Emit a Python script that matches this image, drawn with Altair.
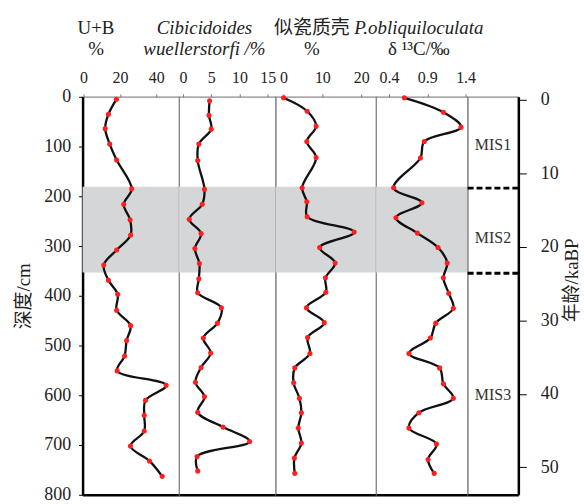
import altair as alt
import pandas as pd

# ---------------- data ----------------
ub_depth = [5, 35, 64, 95, 127, 185, 216, 247, 278, 308, 338, 369, 397, 429, 460, 490, 521, 551, 580, 610, 640, 672, 702, 732, 763]
ub_val = [18.1, 13.7, 11.9, 14.4, 18.2, 26.5, 22.1, 25.6, 25.9, 18.2, 11.1, 13.7, 18.8, 18.2, 25.9, 23.7, 22.6, 18.5, 45.5, 34.1, 33.4, 33.4, 25.8, 36.3, 43.3]

cw_depth = [8, 37, 65, 95, 128, 186, 216, 246, 275, 305, 335, 366, 394, 424, 455, 485, 515, 544, 574, 603, 634, 664, 693, 723, 752]
cw_val = [4.7, 4.6, 5.0, 2.8, 2.6, 3.8, 3.4, 1.1, 3.2, 2.1, 2.9, 2.8, 2.6, 6.8, 6.1, 3.6, 4.9, 3.2, 2.2, 3.8, 2.6, 7.1, 11.8, 2.5, 2.6]

pc_depth = [2, 29, 59, 90, 122, 183, 211, 241, 272, 303, 334, 364, 393, 424, 454, 484, 516, 545, 575, 606, 635, 666, 696, 726, 757]
pc_val = [0, 6.1, 8.4, 6.0, 8.4, 4.8, 6.0, 6.1, 18.2, 9.3, 13.3, 10.8, 10.9, 5.9, 10.5, 6.2, 6.8, 2.9, 2.6, 4.1, 4.6, 3.8, 4.6, 2.8, 2.9]

d13_depth = [2, 31, 61, 90, 123, 183, 213, 243, 274, 303, 334, 364, 395, 425, 455, 485, 516, 545, 577, 606, 635, 666, 698, 729, 757]
d13_val = [0.60, 1.11, 1.34, 0.86, 0.81, 0.46, 0.83, 0.49, 0.77, 1.04, 1.16, 1.11, 1.18, 1.24, 1.01, 0.94, 0.66, 1.06, 1.11, 1.24, 0.79, 0.66, 1.02, 0.91, 0.99]

band_start = [181]
band_end = [353]

mis_labels = ["MIS1", "MIS2", "MIS3"]
mis_age = [6.1, 18.8, 40.2]
mis_bounds = [12.0, 23.6]

depth_ticks = [0, 100, 200, 300, 400, 500, 600, 700, 800]
age_ticks = [0, 10, 20, 30, 40, 50]

# ---------------- styling ----------------
SERIF = "Liberation Serif"
FONT = "Liberation Serif, Noto Sans CJK SC"
TXT = "#222222"
BAND = "#d5d6d8"
DEPTH_SCALE = alt.Scale(domain=[0, 800], reverse=True, nice=False, zero=False)
band_df = pd.DataFrame({"start": band_start, "end": band_end})


def top_axis(ticks, fmt):
    return alt.Axis(orient="top", values=ticks, format=fmt, title=None, domain=False,
                    tickSize=3, tickColor="#777777", labelFontSize=16, labelFont=SERIF,
                    labelColor=TXT, labelPadding=8, labelFlush=False, labelOverlap=False,
                    grid=False)


bottom_axis = alt.Axis(orient="bottom", title=None, labels=False, ticks=False, grid=False,
                       domain=True, domainColor="black", domainWidth=2.5)

left_axis = alt.Axis(orient="left", values=depth_ticks, title="深度/cm", titleFont=FONT,
                     titleFontSize=19, titleFontWeight="normal", titleColor=TXT, titlePadding=10,
                     labelFont=SERIF, labelFontSize=18, labelColor=TXT, labelPadding=8,
                     tickSize=4, tickColor="black", domainColor="black", domainWidth=2.5,
                     labelFlush=False, grid=False)


def make_panel(depths, vals, xdomain, xticks, xfmt, width, title, yaxis=None):
    df = pd.DataFrame({"depth": depths, "value": vals})
    xscale = alt.Scale(domain=xdomain, nice=False, zero=False)
    band = alt.Chart(band_df).mark_rect(color=BAND).encode(
        y=alt.Y("start:Q", scale=DEPTH_SCALE, axis=yaxis),
        y2="end:Q",
    )
    line = alt.Chart(df).mark_line(color="#111111", strokeWidth=2.3,
                                   interpolate="catmull-rom").encode(
        x=alt.X("value:Q", scale=xscale, axis=top_axis(xticks, xfmt)),
        y=alt.Y("depth:Q", scale=DEPTH_SCALE, axis=yaxis),
        order=alt.Order("depth:Q"),
    )
    pts = alt.Chart(df).mark_circle(color="#ff1f1f", size=26, opacity=1).encode(
        x=alt.X("value:Q", scale=xscale, axis=bottom_axis),
        y=alt.Y("depth:Q", scale=DEPTH_SCALE, axis=yaxis),
    )
    return alt.layer(band, line, pts).resolve_axis(x="independent").properties(
        width=width, height=400, title=title)


def ttl(text, sub, dx, font=SERIF, italic_main=False, italic_sub=False):
    return alt.TitleParams(text=text, subtitle=sub, anchor="middle", frame="group", dx=dx,
                           font=font, fontSize=19, fontWeight="normal",
                           fontStyle="italic" if italic_main else "normal", color=TXT,
                           subtitleFont=SERIF, subtitleFontSize=19,
                           subtitleFontStyle="italic" if italic_sub else "normal",
                           subtitleColor=TXT, subtitlePadding=2, offset=11)


p1 = make_panel(ub_depth, ub_val, [-0.55, 52.6], [0, 20, 40], "d", 97,
                ttl("U+B", "%", -35), yaxis=left_axis)
p2 = make_panel(cw_depth, cw_val, [-0.7, 16.4], [0, 5, 10, 15], "d", 97,
                ttl("Cibicidoides", "wuellerstorfi /%", -23, SERIF, True, True))
p3 = make_panel(pc_depth, pc_val, [-2.05, 23.85], [0, 10, 20], "d", 101,
                ttl("似瓷质壳", "%", -14, FONT))
p4 = make_panel(d13_depth, d13_val, [0.231, 1.426], [0.4, 0.9, 1.4], ".1f", 92,
                ttl("P.obliquiloculata", "δ ¹³C/‰", -3, SERIF, True, False))

# MIS column with age axis
AGE_SCALE = alt.Scale(domain=[-0.43, 53.74], reverse=True, nice=False, zero=False)
age_axis = alt.Axis(orient="right", values=age_ticks, title="年龄/kaBP", titleFont=FONT,
                    titleFontSize=19, titleFontWeight="normal", titleColor=TXT,
                    titleAngle=270, titleX=53, titleY=184, titleBaseline="middle",
                    labelFont=SERIF, labelFontSize=18, labelColor=TXT, labelPadding=14,
                    tickSize=8, tickColor="black", domainColor="black", domainWidth=2.5,
                    labelFlush=False, grid=False)
mis_df = pd.DataFrame({"label": mis_labels, "age": mis_age})
bound_df = pd.DataFrame({"age": mis_bounds})
mis_text = alt.Chart(mis_df).mark_text(font=SERIF, fontSize=16, color="#333333",
                                       align="center", baseline="middle").encode(
    x=alt.XDatum(0.5, scale=alt.Scale(domain=[0, 1]), axis=bottom_axis),
    y=alt.Y("age:Q", scale=AGE_SCALE, axis=age_axis),
    text="label:N",
)
mis_rule = alt.Chart(bound_df).mark_rule(color="black", strokeWidth=3, strokeDash=[6, 3]).encode(
    y=alt.Y("age:Q", scale=AGE_SCALE, axis=age_axis),
)
p5 = alt.layer(mis_rule, mis_text).properties(width=51, height=400)

chart = alt.hconcat(p1, p2, p3, p4, p5, spacing=0, bounds="flush").properties(
    padding={"left": 14, "top": 17, "right": 2, "bottom": 0}
).configure_view(stroke="#8a8a8a", strokeWidth=1.2).configure_concat(spacing=0)

chart.save("out.html", embed_options={"renderer": "svg", "actions": False})
